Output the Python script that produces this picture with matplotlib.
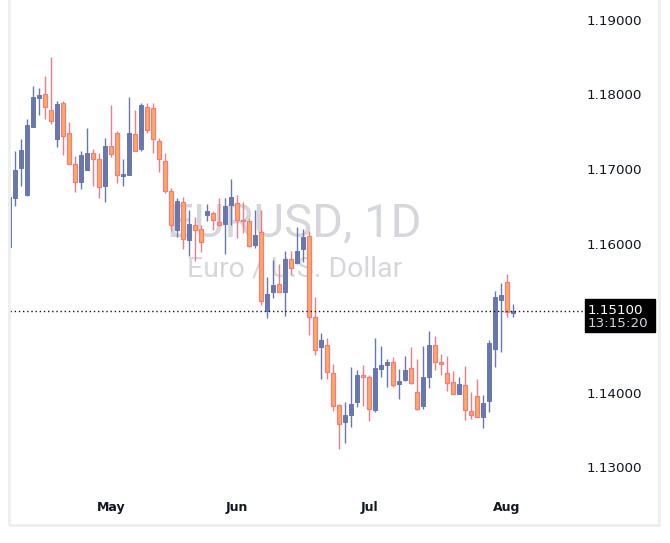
import matplotlib.pyplot as plt
from matplotlib.patches import Rectangle
import numpy as np

# daily candles, EURUSD
opens = [1.1595, 1.1661, 1.1701, 1.1665, 1.1756, 1.1795, 1.1801, 1.1779, 1.1740, 1.1789,
         1.1748, 1.1707, 1.1683, 1.1699, 1.1722, 1.1713, 1.1677, 1.1731, 1.1748, 1.1691,
         1.1692, 1.1747, 1.1727, 1.1783, 1.1782, 1.1738, 1.1711, 1.1671, 1.1618, 1.1656,
         1.1605, 1.1625, 1.1620, 1.1638, 1.1641, 1.1629, 1.1626, 1.1652, 1.1654, 1.1632,
         1.1630, 1.1598, 1.1615, 1.1510, 1.1535, 1.1546, 1.1535, 1.1579, 1.1574, 1.1593,
         1.1610, 1.1501, 1.1461, 1.1464, 1.1426, 1.1383, 1.1361, 1.1370, 1.1387, 1.1424,
         1.1421, 1.1377, 1.1432, 1.1437, 1.1441, 1.1412, 1.1417, 1.1433, 1.1401, 1.1382,
         1.1421, 1.1464, 1.1441, 1.1426, 1.1414, 1.1398, 1.1410, 1.1375, 1.1395, 1.1367,
         1.1389, 1.1459, 1.1524, 1.1548, 1.1507]
highs = [1.1664, 1.1724, 1.1740, 1.1767, 1.1811, 1.1809, 1.1825, 1.1850, 1.1791, 1.1791,
         1.1763, 1.1717, 1.1724, 1.1755, 1.1727, 1.1722, 1.1742, 1.1786, 1.1751, 1.1713,
         1.1797, 1.1779, 1.1789, 1.1789, 1.1789, 1.1742, 1.1722, 1.1675, 1.1661, 1.1662,
         1.1645, 1.1636, 1.1625, 1.1653, 1.1644, 1.1661, 1.1661, 1.1687, 1.1665, 1.1656,
         1.1634, 1.1645, 1.1645, 1.1555, 1.1578, 1.1573, 1.1590, 1.1590, 1.1622, 1.1620,
         1.1617, 1.1528, 1.1480, 1.1473, 1.1438, 1.1385, 1.1387, 1.1434, 1.1430, 1.1437,
         1.1424, 1.1473, 1.1463, 1.1445, 1.1448, 1.1432, 1.1449, 1.1461, 1.1445, 1.1463,
         1.1483, 1.1476, 1.1452, 1.1449, 1.1429, 1.1421, 1.1436, 1.1401, 1.1418, 1.1397,
         1.1471, 1.1536, 1.1547, 1.1559, 1.1519]
lows = [1.1590, 1.1650, 1.1677, 1.1664, 1.1756, 1.1773, 1.1767, 1.1760, 1.1730, 1.1719,
        1.1707, 1.1669, 1.1673, 1.1699, 1.1677, 1.1661, 1.1656, 1.1716, 1.1681, 1.1677,
        1.1692, 1.1724, 1.1724, 1.1748, 1.1722, 1.1696, 1.1668, 1.1617, 1.1609, 1.1593,
        1.1583, 1.1577, 1.1589, 1.1630, 1.1618, 1.1624, 1.1586, 1.1625, 1.1607, 1.1614,
        1.1595, 1.1594, 1.1518, 1.1500, 1.1527, 1.1535, 1.1503, 1.1558, 1.1573, 1.1575,
        1.1477, 1.1450, 1.1418, 1.1418, 1.1375, 1.1324, 1.1332, 1.1354, 1.1381, 1.1382,
        1.1362, 1.1374, 1.1421, 1.1407, 1.1407, 1.1391, 1.1416, 1.1412, 1.1377, 1.1378,
        1.1406, 1.1430, 1.1424, 1.1402, 1.1398, 1.1398, 1.1363, 1.1365, 1.1367, 1.1352,
        1.1374, 1.1434, 1.1454, 1.1501, 1.1501]
closes = [1.1662, 1.1699, 1.1726, 1.1759, 1.1797, 1.1799, 1.1783, 1.1764, 1.1787, 1.1744,
          1.1707, 1.1683, 1.1719, 1.1722, 1.1713, 1.1676, 1.1731, 1.1720, 1.1692, 1.1693,
          1.1748, 1.1724, 1.1786, 1.1752, 1.1740, 1.1713, 1.1671, 1.1625, 1.1657, 1.1606,
          1.1626, 1.1618, 1.1602, 1.1644, 1.1632, 1.1625, 1.1650, 1.1662, 1.1632, 1.1630,
          1.1597, 1.1611, 1.1523, 1.1532, 1.1544, 1.1535, 1.1579, 1.1567, 1.1590, 1.1609,
          1.1501, 1.1457, 1.1471, 1.1428, 1.1382, 1.1358, 1.1370, 1.1385, 1.1424, 1.1421,
          1.1378, 1.1433, 1.1437, 1.1441, 1.1410, 1.1416, 1.1430, 1.1413, 1.1378, 1.1421,
          1.1464, 1.1441, 1.1438, 1.1413, 1.1398, 1.1412, 1.1377, 1.1370, 1.1367, 1.1386,
          1.1467, 1.1528, 1.1531, 1.1508, 1.1510]

price_ticks = [1.13, 1.14, 1.16, 1.17, 1.18, 1.19]
month_pos = [17, 38, 60, 83]
month_labels = ['May', 'Jun', 'Jul', 'Aug']
last_price = 1.151
countdown = '13:15:20'

up_col = '#6878ad'
down_fill = '#fbaa5e'
down_edge = '#f07c84'
wm_col = '#d6d7dc'

o = np.array(opens)
h = np.array(highs)
l = np.array(lows)
c = np.array(closes)
x = np.arange(len(o))
up = c >= o

fig = plt.figure(figsize=(6.7, 5.43), dpi=100)
ax = fig.add_axes([10/670, 51/543, 574/670, 492/543])

# watermark
ax.text(0.495, 0.545, 'EURUSD, 1D', transform=ax.transAxes, ha='center', va='center',
        fontsize=34, family='Roboto', color=wm_col, zorder=0)
ax.text(0.495, 0.453, 'Euro / U.S. Dollar', transform=ax.transAxes, ha='center', va='center',
        fontsize=20.5, family='Roboto', color=wm_col, zorder=0)

# wicks
ax.vlines(x[up], l[up], h[up], color=up_col, lw=1, zorder=2)
ax.vlines(x[~up], l[~up], h[~up], color=down_edge, lw=1, zorder=2)
# bodies
ax.bar(x[up], (c - o)[up], bottom=o[up], width=0.78, color=up_col,
       edgecolor=up_col, lw=0.7, zorder=3)
ax.bar(x[~up], (o - c)[~up], bottom=c[~up], width=0.78, color=down_fill,
       edgecolor=down_edge, lw=0.9, zorder=3)

ax.axhline(last_price, color='#131722', lw=1, ls=(0, (1, 2)), zorder=4)

ax.set_xlim(0.17, 95.83)
ax.set_ylim(1.12666, 1.19268)
for s in ax.spines.values():
    s.set_visible(False)

ax.yaxis.tick_right()
ax.set_yticks(price_ticks)
ax.set_yticklabels(['%.5f' % p for p in price_ticks])
ax.tick_params(axis='y', length=0, pad=1.5, labelsize=9.7, labelcolor='#131722')
ax.set_xticks(month_pos)
ax.set_xticklabels(month_labels, fontweight='bold')
ax.tick_params(axis='x', length=0, pad=6.5, labelsize=9, labelcolor='#131722')

# last price label
ytr = ax.get_yaxis_transform()
ax.add_patch(Rectangle((1.0017, last_price - 21 * 0.0001342), 0.122, 33 * 0.0001342,
                       transform=ytr, color='black', clip_on=False, zorder=6))
ax.text(1.007, last_price, '%.5f' % last_price, transform=ytr, ha='left', va='center',
        fontsize=9.7, color='white', zorder=7, clip_on=False)
ax.text(1.007, last_price - 13 * 0.0001342, countdown, transform=ytr, ha='left', va='center',
        fontsize=9.7, color='#d1d4dc', zorder=7, clip_on=False)

# light frame round the widget
fig.patches.append(Rectangle((9/670, 18/543), 650/670, 530/543, transform=fig.transFigure,
                             fill=False, edgecolor='#eeeeee', lw=2))

fig.savefig('out.png', dpi=100)
